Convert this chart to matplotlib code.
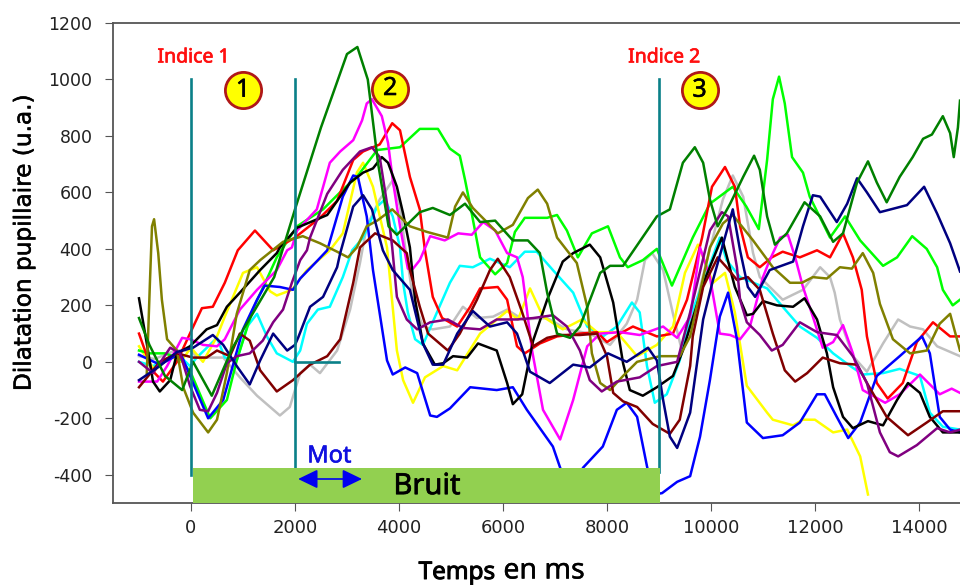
import matplotlib
matplotlib.use('Agg')
import matplotlib.pyplot as plt
import matplotlib.patheffects as pe
import numpy

plt.rcParams['axes.unicode_minus'] = False

# (time in ms, dilatation), one list per curve
grey = [(-1000,20),(-700,10),(-300,40),(0,40),(110,15),(620,15),(940,-55),(1270,-120),(1710,-190),(1900,-160),(2100,-40),(2290,-10),(2480,-40),(2810,40),(3060,185),(3250,350),(3380,480),(3630,575),(3870,640),(4020,550),(4120,405),(4210,300),(4270,220),(4460,125),(4650,115),(4980,125),(5230,195),(5500,155),(5810,160),(6080,185),(6380,150),(6850,155),(7230,115),(7670,100),(8060,60),(8380,135),(8580,220),(8730,360),(8870,385),(9080,325),(9270,170),(9440,40),(9600,125),(9980,400),(10230,575),(10420,660),(10620,585),(10810,385),(10940,300),(11380,220),(11770,255),(12100,335),(12290,300),(12380,245),(12480,150),(12730,20),(13000,-35),(13310,65),(13600,150),(13830,125),(14080,115),(14350,55),(14790,20)]
cyan = [(-1000,0),(-730,-15),(-270,30),(-20,-15),(110,15),(500,85),(650,15),(880,5),(1080,125),(1270,170),(1460,90),(1650,30),(1960,0),(2100,40),(2230,135),(2440,185),(2670,195),(2920,300),(3100,395),(3310,440),(3580,550),(3730,575),(3880,515),(4020,405),(4080,280),(4170,175),(4310,80),(4460,60),(4730,175),(4980,280),(5170,340),(5420,335),(5750,365),(6130,335),(6420,390),(6650,390),(6960,325),(7350,245),(7620,125),(7920,90),(8190,125),(8480,210),(8630,175),(8770,-15),(8920,-145),(9150,-115),(9400,5),(9600,160),(9850,280),(10170,440),(10300,360),(10560,300),(11080,260),(11380,195),(11710,125),(12040,85),(12350,30),(12680,-15),(12920,-45),(13310,-40),(13630,-25),(14020,-50),(14210,-180),(14460,-230),(14790,-240)]
yellow = [(-1000,55),(-700,-30),(-400,20),(-200,0),(0,50),(230,0),(500,90),(650,160),(1000,315),(1270,335),(1520,250),(1650,235),(1940,255),(2230,325),(2670,395),(2920,455),(3190,670),(3310,705),(3500,620),(3770,405),(3850,250),(3960,40),(4080,-65),(4270,-145),(4500,-55),(4850,-15),(5120,-30),(5560,100),(6080,180),(6290,150),(6520,260),(6770,160),(7150,115),(7520,150),(7810,105),(8190,105),(8580,20),(8960,60),(9270,125),(9500,315),(9750,415),(9850,370),(10040,280),(10270,315),(10460,175),(10690,-85),(11080,-180),(11190,-205),(11580,-225),(11770,-205),(12000,-205),(12350,-250),(12620,-240),(12870,-335),(13020,-470)]
lime = [(-1000,40),(-790,30),(-500,30),(-200,10),(0,-40),(370,-200),(690,-135),(880,5),(1190,185),(1650,370),(2040,480),(2540,540),(2920,610),(3190,655),(3580,750),(4020,760),(4400,825),(4750,825),(4980,755),(5170,730),(5270,645),(5400,525),(5560,370),(5850,310),(6080,350),(6230,460),(6420,510),(6850,510),(7040,520),(7230,465),(7440,370),(7710,455),(8020,480),(8250,370),(8400,335),(8690,360),(8960,400),(9250,270),(9650,440),(9980,560),(10420,620),(10680,550),(10920,470),(11080,715),(11190,930),(11310,1010),(11420,915),(11560,725),(11770,670),(11900,585),(12290,440),(12580,515),(12870,430),(13310,340),(13580,370),(13870,445),(14150,400),(14350,335),(14460,255),(14650,200),(14790,220)]
red = [(-1000,100),(-750,-30),(-540,-70),(-270,0),(-20,100),(210,190),(420,195),(650,280),(900,395),(1230,465),(1580,395),(2000,440),(2480,510),(2810,570),(3120,715),(3310,745),(3630,770),(3870,845),(4020,820),(4210,655),(4400,540),(4500,395),(4650,230),(4830,155),(5120,125),(5370,195),(5560,260),(5900,265),(6080,220),(6270,55),(6420,30),(6710,65),(7040,90),(7480,100),(7810,105),(8000,70),(8250,100),(8500,125),(8960,90),(9270,100),(9540,220),(9830,440),(10020,620),(10270,690),(10460,620),(10560,480),(10710,370),(10940,335),(11170,370),(11380,390),(11710,370),(12040,395),(12290,370),(12540,455),(12730,370),(12900,255),(13000,90),(13190,-75),(13400,-130),(13690,-75),(13960,70),(14270,140),(14600,90),(14790,90)]
magenta = [(-1000,-70),(-650,-70),(-460,-15),(-170,85),(-20,80),(230,60),(500,55),(650,80),(940,185),(1270,255),(1650,325),(1850,395),(1940,405),(2040,465),(2420,540),(2670,705),(2870,745),(3120,785),(3290,855),(3380,915),(3480,930),(3670,870),(3790,775),(3880,645),(4020,480),(4170,330),(4270,330),(4400,360),(4600,445),(4880,430),(5140,455),(5400,450),(5620,495),(5850,465),(6080,385),(6270,370),(6380,300),(6560,40),(6770,-170),(7100,-275),(7350,-135),(7620,55),(7870,100),(8250,105),(8630,95),(9080,125),(9350,85),(9600,160),(9790,405),(9980,300),(10170,100),(10370,95),(10560,80),(10750,125),(11000,300),(11130,360),(11330,440),(11480,450),(11620,370),(11770,265),(11960,160),(12150,50),(12350,70),(12540,130),(12730,30),(12920,-100),(13350,-145),(13630,-115),(14020,-45),(14400,-115),(14630,-95),(14790,-110)]
blue = [(-1000,25),(-600,-10),(-200,30),(40,-75),(330,-200),(620,-135),(1000,115),(1270,220),(1420,270),(1710,265),(1960,255),(2100,295),(2440,360),(2620,395),(2920,585),(3120,660),(3210,655),(3380,515),(3500,325),(3770,5),(3880,-45),(4120,-20),(4350,-40),(4600,-190),(4730,-195),(4980,-165),(5370,-90),(5880,-100),(6190,-90),(6460,-170),(6960,-300),(7100,-375),(7300,-470),(7540,-375),(7920,-300),(8190,-170),(8380,-145),(8580,-195),(8770,-370),(8900,-470),(9060,-465),(9350,-425),(9600,-405),(9790,-265),(9980,-65),(10170,160),(10330,245),(10500,80),(10690,-215),(11000,-270),(11380,-260),(11710,-215),(12040,-115),(12190,-115),(12420,-195),(12640,-270),(12870,-215),(13190,-50),(13630,20),(14060,90),(14210,30),(14400,-195),(14600,-240),(14790,-250)]
black = [(-1000,225),(-850,65),(-730,-70),(-600,-105),(-400,-65),(-270,30),(-20,55),(300,115),(500,130),(690,195),(940,245),(1330,325),(1650,385),(1710,405),(2040,475),(2620,520),(3060,635),(3310,670),(3500,685),(3670,725),(3790,705),(3960,620),(4080,525),(4210,405),(4310,220),(4460,65),(4690,-10),(4850,-5),(5040,20),(5310,15),(5520,65),(5880,40),(6080,-75),(6190,-150),(6370,-115),(6580,75),(6850,220),(7150,355),(7350,385),(7670,415),(7870,370),(8120,210),(8310,-5),(8440,-100),(8690,-120),(8960,-90),(9270,-50),(9460,40),(9600,125),(9900,300),(10210,440),(10460,265),(10690,165),(10810,170),(11000,215),(11270,200),(11580,195),(11800,225),(12040,150),(12230,30),(12350,-90),(12540,-195),(12730,-235),(13020,-210),(13310,-225),(13580,-135),(13790,-75),(14020,-110),(14210,-195),(14460,-250),(14790,-250)]
olive = [(-850,-40),(-790,280),(-750,480),(-710,505),(-630,385),(-560,220),(-460,80),(-270,40),(-150,-90),(40,-180),(330,-250),(500,-205),(690,-40),(880,170),(1130,325),(1330,360),(1770,425),(2150,445),(2480,420),(2810,390),(3020,370),(3190,405),(3380,480),(3580,500),(3870,540),(4210,480),(4540,460),(4940,440),(5080,550),(5230,600),(5420,545),(5690,495),(5900,455),(6190,485),(6480,580),(6670,610),(6850,560),(7040,440),(7420,350),(7620,195),(7710,30),(7870,-75),(8060,-100),(8310,-50),(8580,0),(9020,20),(9400,20),(9600,90),(9980,405),(10230,490),(10420,520),(10810,430),(11190,335),(11520,280),(11750,280),(11960,300),(12230,295),(12480,335),(12710,330),(12920,385),(13120,315),(13250,205),(13500,80),(13830,30),(14150,40),(14400,135),(14600,170),(14790,40)]
maroon = [(-1000,-90),(-600,0),(-270,30),(40,15),(300,15),(500,40),(750,20),(940,100),(1130,75),(1330,-30),(1650,-105),(1960,-65),(2290,-10),(2620,20),(2870,80),(3120,280),(3250,405),(3540,455),(3880,430),(4150,385),(4210,325),(4400,195),(4560,100),(4940,40),(5170,100),(5500,220),(5750,325),(5900,365),(6130,300),(6370,175),(6580,55),(6850,85),(7100,95),(7480,95),(7810,100),(8000,20),(8120,-110),(8310,-140),(8580,-160),(8880,-220),(9210,-255),(9400,-205),(9600,-15),(9650,90),(9850,265),(10130,370),(10300,335),(10500,290),(10710,300),(10940,255),(11190,100),(11420,-30),(11620,-70),(11850,-40),(12150,15),(12480,-5),(12810,-10),(13000,-75),(13380,-195),(13790,-260),(14150,-215),(14460,-175),(14790,-175)]
purple = [(-1000,0),(-730,-40),(-400,50),(-210,30),(-20,-85),(170,-170),(330,-175),(500,-110),(690,-5),(880,20),(1130,30),(1380,75),(1580,140),(1770,185),(1940,280),(2100,360),(2230,395),(2290,440),(2620,595),(2920,680),(3250,745),(3480,760),(3630,725),(3770,560),(3870,405),(3960,230),(4150,150),(4350,115),(4600,140),(4940,150),(5230,120),(5560,115),(5880,150),(6270,150),(6580,155),(6960,165),(7230,125),(7480,40),(7670,-65),(7900,-105),(8190,-70),(8630,-55),(8960,-15),(9350,0),(9600,175),(9980,465),(10210,530),(10330,515),(10500,335),(10560,220),(10690,140),(10940,95),(11170,40),(11380,60),(11710,140),(12040,105),(12420,95),(12730,20),(13000,-75),(13250,-250),(13440,-320),(13600,-335),(13960,-295),(14350,-235),(14600,-250),(14790,-240)]
navy = [(-1000,-65),(-600,-15),(-270,35),(40,50),(420,95),(620,60),(880,-15),(1130,-80),(1330,5),(1580,100),(1850,40),(2000,60),(2060,85),(2290,195),(2540,230),(2810,335),(2870,385),(3120,550),(3310,590),(3480,540),(3690,395),(3880,325),(4210,255),(4460,65),(4650,-10),(4850,-10),(5120,100),(5420,180),(5750,125),(6080,140),(6270,100),(6520,-35),(6900,-75),(7350,-10),(7670,-20),(8020,30),(8380,0),(8790,50),(8960,5),(9080,-135),(9210,-265),(9350,-305),(9600,-180),(9850,150),(10040,290),(10420,540),(10560,395),(10710,265),(10850,230),(11130,325),(11580,355),(11770,480),(11960,590),(12100,585),(12420,495),(12620,560),(12810,650),(13000,600),(13250,530),(13770,555),(14100,620),(14350,525),(14600,420),(14790,320)]
darkgreen = [(-1000,155),(-800,60),(-500,-50),(-170,-100),(40,0),(400,-120),(800,50),(1600,300),(2000,540),(2500,830),(3000,1090),(3200,1115),(3400,1000),(3600,700),(3800,480),(3960,450),(4400,530),(4650,545),(4980,520),(5270,560),(5560,495),(5850,500),(6190,430),(6480,430),(6710,385),(6850,245),(7040,100),(7290,85),(7480,125),(7870,315),(8060,340),(8310,340),(8960,515),(9210,540),(9460,705),(9690,760),(9850,705),(9980,575),(10130,480),(10370,560),(10620,655),(10830,730),(10940,680),(11080,515),(11230,415),(11460,455),(11800,565),(12100,515),(12350,425),(12540,455),(12810,635),(13020,710),(13190,635),(13380,565),(13630,655),(13880,725),(14080,790),(14250,805),(14460,870),(14600,810),(14670,725),(14750,830),(14790,925)]

curves = [(grey, '#C0C0C0'), (cyan, '#00FFFF'), (yellow, '#FFFF00'), (lime, '#00FF00'),
          (red, '#FF0000'), (magenta, '#FF00FF'), (blue, '#0000FF'), (black, '#000000'),
          (olive, '#808000'), (maroon, '#800000'), (purple, '#800080'), (navy, '#000080'),
          (darkgreen, '#008000')]

yticks = [-400, -200, 0, 200, 400, 600, 800, 1000, 1200]
xticks = [0, 2000, 4000, 6000, 8000, 10000, 12000, 14000]
markers = [(0, 1000, -400), (2000, 1000, -375), (9000, 1000, -390)]
circles = [(1000, 962, '1'), (3830, 968, '2'), (9780, 962, '3')]


# the installed Noto Sans ignores weight, so thicken the letters with a stroke
def heavy(colour, width):
    return [pe.withStroke(linewidth=width, foreground=colour)]


fig = plt.figure(figsize=(9.6, 5.85), dpi=100)
ax = fig.add_axes([113/960, 82/585, 847/960, 480/585])

for points, colour in curves:
    t, v = numpy.array(points).T
    ax.plot(t, v, color=colour, linewidth=1.8, solid_joinstyle='round', zorder=2)

for x, top, bottom in markers:
    ax.plot([x, x], [top, bottom], color='#0A8088', linewidth=1.9, zorder=3)
ax.plot([2000, 2850], [0, 0], color='#0A8088', linewidth=1.9, zorder=3)

ax.fill_between([40, 9020], -500, -375, color='#92D050', linewidth=0, zorder=4)
ax.text(4540, -442, 'Bruit', fontsize=21, family='Noto Sans', ha='center', va='center', zorder=5,
        path_effects=heavy('black', 0.5))
ax.text(2660, -335, 'Mot', fontsize=17, family='Noto Sans', color='#1010E0', ha='center', va='center', zorder=5,
        path_effects=heavy('#1010E0', 0.4))
ax.annotate('', xy=(3290, -415), xytext=(2060, -415), zorder=5,
            arrowprops=dict(arrowstyle='<|-|>,head_length=0.6,head_width=0.29', color='#0000F0', linewidth=1.2, mutation_scale=20, shrinkA=0, shrinkB=0))
ax.text(50, 1078, 'Indice 1', fontsize=14, family='Noto Sans', color='#FF1010', ha='center', va='center',
        path_effects=heavy('#FF1010', 0.5))
ax.text(9100, 1078, 'Indice 2', fontsize=14, family='Noto Sans', color='#FF1010', ha='center', va='center',
        path_effects=heavy('#FF1010', 0.5))

for x, y, label in circles:
    ax.scatter([x], [y], s=680, color='#FFFF00', edgecolor='#B01818', linewidth=2, zorder=5)
    ax.text(x, y, label, fontsize=18, family='Noto Sans', ha='center', va='center', zorder=6,
            path_effects=heavy('black', 0.4))

ax.set_xlim(-1500, 14790)
ax.set_ylim(-500, 1200)
ax.set_xticks(xticks)
ax.set_yticks(yticks)
ax.tick_params(axis='y', labelsize=12.5, length=5.8, color='#555555', labelcolor='#222222', pad=9)
ax.tick_params(axis='x', labelsize=13, length=5.8, color='#555555', labelcolor='#222222', pad=6)
for side in ['top', 'left', 'bottom', 'right']:
    ax.spines[side].set_color('#555555')
    ax.spines[side].set_linewidth(1.3)
ax.spines['right'].set_visible(False)

fig.text(24/960, 1 - 243/585, 'Dilatation pupillaire (u.a.)', rotation=90, fontsize=16.7, family='DejaVu Sans', ha='center', va='center',
         path_effects=heavy('black', 0.4))
fig.text(457/960, 1 - 573/585, 'Temps', fontsize=17.5, family='Noto Sans', ha='center', va='center',
         path_effects=heavy('black', 0.7))
fig.text(544/960, 1 - 571/585, 'en ms', fontsize=20.5, family='Noto Sans', ha='center', va='center',
         path_effects=heavy('black', 0.3))

fig.savefig('out.png', dpi=100)
